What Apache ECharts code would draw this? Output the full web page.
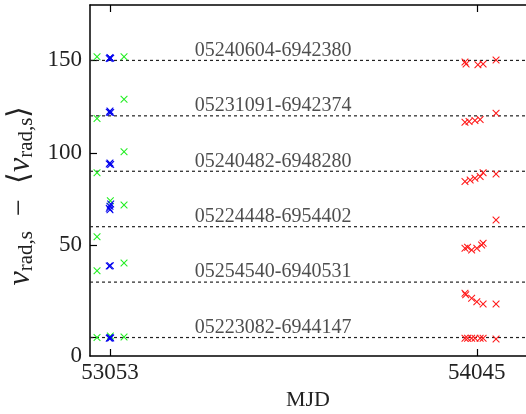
<!DOCTYPE html>
<html><head><meta charset="utf-8">
<script src="https://cdn.jsdelivr.net/npm/echarts@6/dist/echarts.min.js"></script>
<style>html,body{margin:0;padding:0;background:#fff}#c{width:526px;height:414px}</style>
</head><body><div id="c"></div>
<script>
// Star names and velocity offsets (dotted reference lines)
var starNames = ['05223082-6944147','05254540-6940531','05224448-6954402','05240482-6948280','05231091-6942374','05240604-6942380'];
var starOffsets = [0, 30, 60, 90, 120, 150];
// x tick labels / y tick labels
var xTicks = [53053, 54045];
var yTicks = [0, 50, 100, 150];
var xRange = [52999, 54178];
var yRange = [-10, 180];
var labelMJD = 53494;

// green epochs: [MJD, v_rad - <v_rad> + offset]
var greenPts = [
  [53018,152.0],[53091,152.0],
  [53018,118.5],[53091,129.0],
  [53018,89.2],[53091,100.5],
  [53018,54.6],[53054,74.0],[53091,71.7],
  [53018,36.2],[53091,40.4],
  [53018,0.0],[53054,0.8],[53091,0.3]
];
// blue epochs
var bluePts = [
  [53051,151.0],[53053,151.6],[53055,151.2],
  [53051,122.0],[53053,122.6],[53055,121.8],
  [53051,93.9],[53053,94.5],[53055,93.6],
  [53051,70.0],[53053,71.0],[53055,72.3],[53053,69.2],
  [53051,38.7],[53054,38.9],
  [53051,-0.4],[53053,0.0],[53055,-0.2]
];
// red epochs
var redPts = [
  [54013,149.2],[54016,148.0],[54048,147.6],[54062,148.0],[54097,150.2],
  [54013,116.5],[54024,117.0],[54040,117.5],[54054,118.0],[54097,121.4],
  [54013,84.4],[54027,85.3],[54040,86.2],[54054,87.1],[54062,89.2],[54097,88.5],
  [54013,48.3],[54020,48.8],[54031,47.4],[54045,48.3],[54058,50.1],[54062,51.0],[54097,63.6],
  [54013,24.0],[54015,23.2],[54031,21.2],[54045,19.4],[54062,18.1],[54097,18.1],
  [54013,-0.4],[54020,-0.4],[54031,-0.4],[54040,-0.4],[54054,-0.4],[54062,-0.4],[54097,-0.8]
];

var X = 'path://M0,1L1,0L5,4L9,0L10,1L6,5L10,9L9,10L5,6L1,10L0,9L4,5Z';
var serif = 'Liberation Serif';

var series = [];
starOffsets.forEach(function(off, i){
  series.push({
    type:'line', xAxisIndex:0, yAxisIndex:0, symbol:'none', silent:true, z:1,
    data:[[xRange[0],off],[xRange[1],off]],
    lineStyle:{color:'#222', width:1.2, type:[3,3]}
  });
  series.push({
    type:'scatter', symbolSize:0, silent:true, z:3,
    data:[[labelMJD, off]],
    label:{show:true, position:'top', distance:0, formatter:starNames[i],
      fontFamily:serif, fontSize:20, color:'#222'}
  });
});
function sc(pts, col){
  return {type:'scatter', data:pts, symbol:X, symbolSize:7.5, z:5,
    itemStyle:{color:col, opacity:1}};
}
series.push(sc(greenPts,'#22ee22'));
series.push(sc(bluePts,'#0000ee'));
series.push(sc(redPts,'#ff1a1a'));

var chart = echarts.init(document.getElementById('c'), null, {renderer:'canvas'});
chart.setOption({
  animation:false,
  backgroundColor:'#fff',
  grid:{left:90, right:0, top:5, bottom:58, containLabel:false, outerBoundsMode:'none'},
  xAxis:[{
    type:'value', min:xRange[0], max:xRange[1], position:'bottom',
    name:'MJD', nameLocation:'middle', nameGap:33,
    nameTextStyle:{fontFamily:serif, fontSize:22, color:'#222'},
    axisLine:{show:true, onZero:false, lineStyle:{color:'#000', width:1.5}},
    axisTick:{show:true, inside:true, length:7, customValues:xTicks, lineStyle:{color:'#000', width:1.2}},
    axisLabel:{customValues:xTicks, margin:5, fontFamily:serif, fontSize:23, color:'#222',
      formatter:function(v){ return String(v); }},
    splitLine:{show:false}
  },{
    type:'value', min:xRange[0], max:xRange[1], position:'top',
    axisLine:{show:true, onZero:false, lineStyle:{color:'#000', width:1.5}},
    axisTick:{show:true, inside:true, length:7, customValues:xTicks, lineStyle:{color:'#000', width:1.2}},
    axisLabel:{show:false}, splitLine:{show:false}
  }],
  yAxis:[{
    type:'value', min:yRange[0], max:yRange[1],
    name:'{v|v}{s|rad,s}{m|  −  ⟨}{v|v}{s|rad,s}{m|⟩}', nameLocation:'middle', nameGap:51,
    nameTextStyle:{fontFamily:serif, color:'#222', padding:[0,30,0,0], rich:{
      v:{fontFamily:serif, fontStyle:'italic', fontSize:32, lineHeight:32, color:'#222'},
      s:{fontFamily:serif, fontSize:21, lineHeight:14, verticalAlign:'bottom', color:'#222'},
      m:{fontFamily:serif, fontSize:30, lineHeight:32, color:'#222'}
    }},
    axisLine:{show:true, onZero:false, lineStyle:{color:'#000', width:1.5}},
    axisTick:{show:true, inside:true, length:7, customValues:yTicks, lineStyle:{color:'#000', width:1.2}},
    axisLabel:{customValues:yTicks, margin:8, fontFamily:serif, fontSize:23, color:'#222',
      formatter:function(v){ return v===0 ? '{z|0}' : String(v); },
      rich:{z:{fontFamily:serif, fontSize:23, color:'#222', padding:[36,0,0,0]}}},
    splitLine:{show:false}
  }],
  series:series
});
</script></body></html>
